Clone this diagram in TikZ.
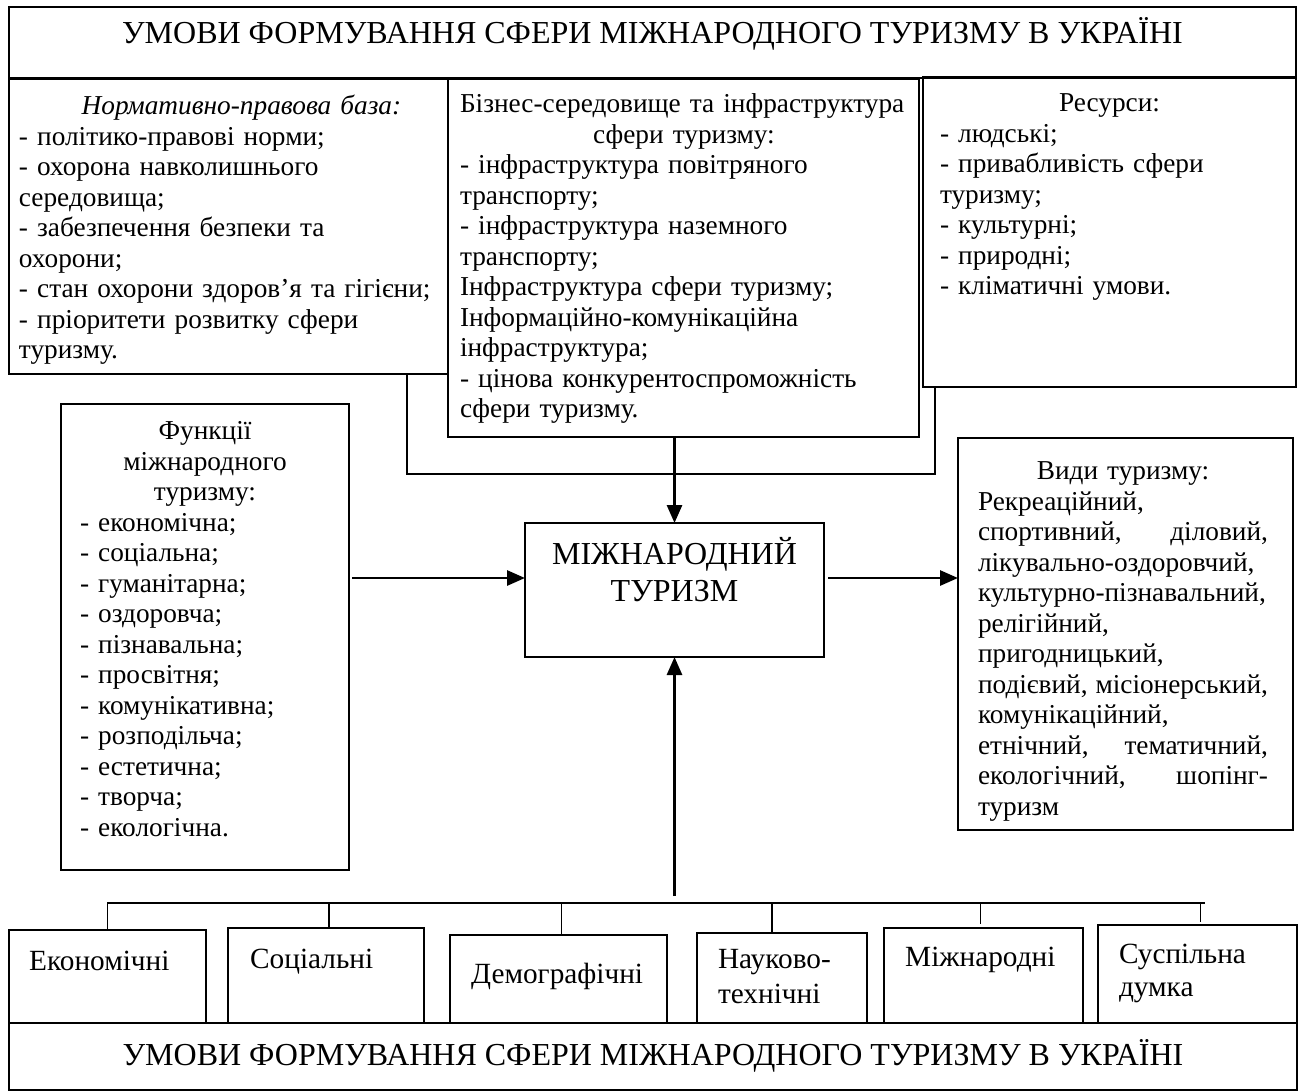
\documentclass[tikz,border=0pt]{standalone}
\usepackage{fontspec}
\setmainfont{Liberation Serif}
\usetikzlibrary{arrows.meta}
\newcommand\bodyfont{\fontsize{27.3}{30.5}\selectfont}
\newcommand\bigfont{\fontsize{32}{37}\selectfont}
\newcommand\bottomfont{\fontsize{29.3}{34}\selectfont}
\begin{document}
\begin{tikzpicture}[x=1pt,y=-1pt,
  box/.style={draw=black,line width=1.8pt,inner sep=0pt,outer sep=0pt,anchor=north west},
  txt/.style={inner sep=0pt,outer sep=0pt,anchor=north west,font=\bodyfont,align=left},
  conn/.style={line width=1.8pt},
  arr/.style={line width=2.8pt,-{Triangle[length=18pt,width=15pt]}}]
\useasboundingbox (0,0) rectangle (1298,1090);
\fill[white] (0,0) rectangle (1298,1090);
% boxes
\node[box,minimum width=1287pt,minimum height=71pt] (top) at (9,7) {};
\node[box,minimum width=439pt,minimum height=295pt] (lb) at (9,79) {};
\node[box,minimum width=471pt,minimum height=358pt] (mb) at (448,79) {};
\node[box,minimum width=373pt,minimum height=310pt] (res) at (923,77) {};
\node[box,minimum width=288pt,minimum height=466pt] (fun) at (61,404) {};
\node[box,minimum width=299pt,minimum height=134pt] (cen) at (525,523) {};
\node[box,minimum width=335pt,minimum height=392pt] (vid) at (958,438) {};
\node[box,minimum width=197pt,minimum height=93pt] (b1) at (9,930) {};
\node[box,minimum width=196pt,minimum height=95pt] (b2) at (228,928) {};
\node[box,minimum width=217pt,minimum height=88pt] (b3) at (450,935) {};
\node[box,minimum width=170pt,minimum height=90pt] (b4) at (697,933) {};
\node[box,minimum width=199pt,minimum height=95pt] (b5) at (884,928) {};
\node[box,minimum width=199pt,minimum height=98pt] (b6) at (1098,925) {};
\node[box,minimum width=1288pt,minimum height=67pt] (bot) at (9,1023) {};
% titles
\node[inner sep=0pt,anchor=base,font=\bigfont] (ttop) at (652.5,43) {УМОВИ ФОРМУВАННЯ СФЕРИ МІЖНАРОДНОГО ТУРИЗМУ В УКРАЇНІ};
\node[inner sep=0pt,anchor=base,font=\bigfont] (tbot) at (653,1065) {УМОВИ ФОРМУВАННЯ СФЕРИ МІЖНАРОДНОГО ТУРИЗМУ В УКРАЇНІ};
% block texts
\node[txt,text width=425pt] (lt) at (19,93.6) {\strut\makebox[\linewidth]{\hspace{20pt}\textit{Нормативно-правова база:}}\\
- політико-правові норми;\\
- охорона навколишнього\\
середовища;\\
- забезпечення безпеки та\\
охорони;\\
- стан охорони здоров’я та гігієни;\\
- пріоритети розвитку сфери\\
туризму.};
\node[txt,text width=448pt] (mt) at (460,91.6) {\strut Бізнес-середовище та інфраструктура\\
\makebox[\linewidth]{сфери туризму:}\\
- інфраструктура повітряного\\
транспорту;\\
- інфраструктура наземного\\
транспорту;\\
Інфраструктура сфери туризму;\\
Інформаційно-комунікаційна\\
інфраструктура;\\
- цінова конкурентоспроможність\\
сфери туризму.};
\node[txt,text width=339pt] (rt) at (940,90.6) {\strut\makebox[\linewidth]{Ресурси:}\\
- людські;\\
- привабливість сфери\\
туризму;\\
- культурні;\\
- природні;\\
- кліматичні умови.};
\node[txt,text width=250pt] (ft) at (80,418.6) {\strut\makebox[\linewidth]{Функції}\\
\makebox[\linewidth]{міжнародного}\\
\makebox[\linewidth]{туризму:}\\
- економічна;\\
- соціальна;\\
- гуманітарна;\\
- оздоровча;\\
- пізнавальна;\\
- просвітня;\\
- комунікативна;\\
- розподільча;\\
- естетична;\\
- творча;\\
- екологічна.};
\node[txt,text width=290pt] (vt) at (978,458.6) {\strut\makebox[\linewidth]{Види туризму:}\\
Рекреаційний,\\
\makebox[\linewidth]{спортивний,\hfill діловий,}\\
лікувально-оздоровчий,\\
культурно-пізнавальний,\\
релігійний,\\
пригодницький,\\
\makebox[\linewidth]{подієвий,\hfill місіонерський,}\\
комунікаційний,\\
\makebox[\linewidth]{етнічний,\hfill тематичний,}\\
\makebox[\linewidth]{екологічний,\hfill шопінг-}\\
туризм};
\node[inner sep=0pt,anchor=north,font=\bigfont,align=center,text width=290pt] (ct) at (674.5,537.1) {\strut МІЖНАРОДНИЙ\\ТУРИЗМ};
% bottom texts
\node[inner sep=0pt,anchor=base west,font=\bottomfont] (t1) at (29,970) {Економічні};
\node[inner sep=0pt,anchor=base west,font=\bottomfont] (t2) at (250,968) {Соціальні};
\node[inner sep=0pt,anchor=base west,font=\bottomfont] (t3) at (471,983) {Демографічні};
\node[txt,font=\fontsize{29.3}{35}\selectfont,text width=140pt] (t4) at (718,943.5) {\strut Науково-\\технічні};
\node[inner sep=0pt,anchor=base west,font=\bottomfont] (t5) at (905,966) {Міжнародні};
\node[txt,font=\fontsize{29.3}{33}\selectfont,text width=170pt] (t6) at (1119,939.9) {\strut Суспільна\\думка};
% connectors
\coordinate (cL) at (407,474);
\coordinate (cR) at (935,474);
\draw[conn] (lb.south -| cL) -- (cL) -- (cR) -- (res.south -| cR);
\draw[arr] (cen.north |- mb.south) -- (cen.north);
\draw[arr] ([xshift=3pt,yshift=12pt]cen.west -| fun.east) -- ([yshift=12pt]cen.west);
\draw[arr] ([xshift=4pt,yshift=12pt]cen.east) -- ([yshift=12pt]cen.east -| vid.west);
\coordinate (up) at (674.5,896);
\draw[arr] (up) -- (cen.south);
\coordinate (busL) at (107,903);
\coordinate (busR) at (1205,903);
\draw[conn] (busL) -- (busR);
\draw[conn] (b1.north |- busL) -- (b1.north);
\draw[conn] ([xshift=3pt]b2.north |- busL) -- ([xshift=3pt]b2.north);
\draw[conn] ([xshift=3pt]b3.north |- busL) -- ([xshift=3pt]b3.north);
\draw[conn] ([xshift=-10pt]b4.north |- busL) -- ([xshift=-10pt]b4.north);
\draw[conn] ([xshift=-3pt]b5.north |- busL) -- ([xshift=-3pt,yshift=4pt]b5.north);
\draw[conn] ([xshift=3pt]b6.north |- busL) -- ([xshift=3pt,yshift=3pt]b6.north);
\end{tikzpicture}
\end{document}
